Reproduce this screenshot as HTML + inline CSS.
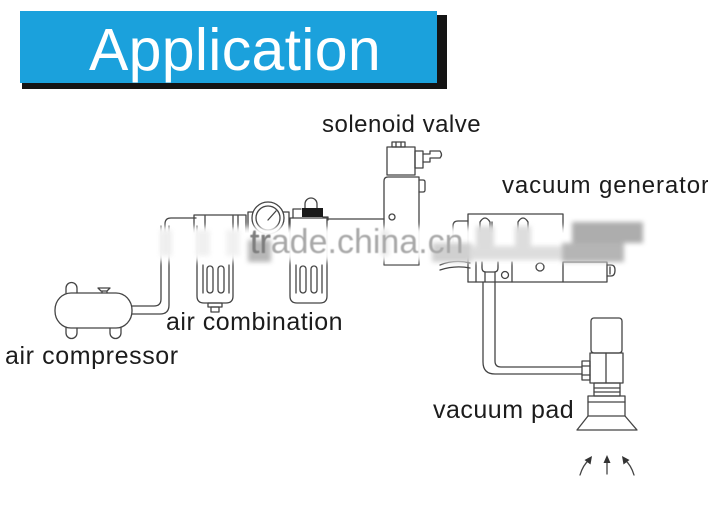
<!DOCTYPE html>
<html>
<head>
<meta charset="utf-8">
<style>
  html,body{margin:0;padding:0;background:#fff;}
  body{width:708px;height:507px;overflow:hidden;}
  svg{display:block;}
  text{font-family:"Liberation Sans", Arial, sans-serif;}
</style>
</head>
<body>
<svg width="708" height="507" viewBox="0 0 708 507" xmlns="http://www.w3.org/2000/svg">
  <defs>
    <filter id="b3" x="-30%" y="-30%" width="160%" height="160%"><feGaussianBlur stdDeviation="3"/></filter>
    <filter id="b2" x="-30%" y="-30%" width="160%" height="160%"><feGaussianBlur stdDeviation="2.5"/></filter>
    <filter id="b1" x="-30%" y="-30%" width="160%" height="160%"><feGaussianBlur stdDeviation="0.6"/></filter>
  </defs>

  <!-- Title -->
  <rect x="22" y="15" width="425" height="74" fill="#141414"/>
  <rect x="20" y="11" width="417" height="72" fill="#1ba1dc"/>
  <text x="89" y="70" font-size="59" fill="#ffffff" letter-spacing="0.3">Application</text>

  <g fill="none" stroke="#444" stroke-width="1.3" stroke-linecap="round" stroke-linejoin="round">
    <!-- Air compressor -->
    <rect x="55" y="293" width="77" height="35" rx="16" ry="17"/>
    <path d="M66,293 V288 a5.5,5.5 0 0 1 11,0 V293"/>
    <path d="M66,328 V333 a5.5,5.5 0 0 0 11,0 V328"/>
    <path d="M110,328 V333 a5.5,5.5 0 0 0 11,0 V328"/>
    <path d="M102,293 V291 M107,293 V291 M98,288 H110 L107,291 H101 Z"/>

    <!-- tube from compressor -->
    <path d="M132,306 H154 Q161,306 161,299 V226"/>
    <path d="M132,314 H160 Q169,314 169,305 V226"/>
    <path d="M165,232 V224 Q165,218 171,218 H196"/>

    <!-- Filter 1 -->
    <path d="M194,232 V215 H246 V232"/>
    <path d="M205,216 V232 M233,216 V232 M238,216 V232"/>
    <path d="M197,226 V296 Q197,303 204,303 H226 Q233,303 233,296 V226"/>
    <path d="M203,265 V293 M229,265 V293"/>
    <rect x="207" y="266" width="6" height="27" rx="3"/>
    <rect x="218" y="266" width="6" height="27" rx="3"/>
    <rect x="208" y="303" width="14" height="4"/>
    <rect x="211" y="307" width="8" height="5"/>

    <!-- Regulator + gauge -->
    <path d="M248,232 V212 H289 V232"/>
    <circle cx="268" cy="218" r="16" fill="#fff"/>
    <circle cx="268" cy="218" r="12"/>
    <path d="M268,220 L276,211"/>

    <!-- Filter 2 (lubricator) -->
    <path d="M293,218 V209 H301"/>
    <path d="M323,217 H328 V220"/>
    <path d="M305,208 V204 a6,6 0 0 1 12,0 V208"/>
    <path d="M290,226 V296 Q290,303 297,303 H320 Q327,303 327,296 V226"/>
    <path d="M290,226 V218 H327 V226"/>
    <path d="M296,265 V293 M322,265 V293"/>
    <rect x="300" y="266" width="6" height="27" rx="3"/>
    <rect x="311" y="266" width="6" height="27" rx="3"/>

    <!-- line to solenoid -->
    <path d="M328,219 H384"/>

    <!-- Solenoid valve -->
    <rect x="392" y="142" width="13" height="5"/>
    <path d="M396,142 V147 M401,142 V147"/>
    <rect x="387" y="147" width="28" height="28"/>
    <rect x="415" y="151" width="8" height="17"/>
    <path d="M423,154 H430 V151 H440 Q443,155 440,158 H430 V162 H423"/>
    <path d="M384,265 V181 Q384,177 388,177 H419 V265 H384"/>
    <path d="M419,180 H423 Q425,180 425,182 V190 Q425,192 423,192 H419"/>
    <circle cx="392" cy="217" r="3"/>

    <!-- Vacuum generator -->
    <path d="M453,242 V226 Q453,221 458,221 H468"/>
    <path d="M468,282 V214 H563 V232"/>
    <path d="M480,232 V222 Q485,214 490,222 V232"/>
    <path d="M492,232 V222"/>
    <path d="M518,232 V222 Q523,214 528,222 V232"/>
    <path d="M468,282 H563"/>
    <rect x="563" y="262" width="44" height="20"/>
    <path d="M607,265 H611 Q615,265 615,270 Q615,276 611,276 H607 M610,267 V274"/>
    <path d="M476,262 V282"/>
    <path d="M482,262 V268 Q482,272 486,272 H494 Q498,272 498,268 V262"/>
    <path d="M485,272 V282 M495,272 V282"/>
    <circle cx="505" cy="275" r="3.5"/>
    <path d="M512,262 V282"/>
    <circle cx="540" cy="267" r="4"/>
    <path d="M440,265 Q455,259 470,263 M440,270 Q455,265 470,268"/>

    <!-- Tube to vacuum pad -->
    <path d="M483,282 V362 Q483,374 495,374 H582"/>
    <path d="M495,282 V361 Q495,367 501,367 H582"/>
    <rect x="582" y="361" width="8" height="19"/>
    <path d="M582,366 H590 M582,375 H590"/>

    <!-- Vacuum pad -->
    <rect x="591" y="318" width="31" height="35" rx="3"/>
    <rect x="590" y="353" width="33" height="30"/>
    <path d="M606,353 V383"/>
    <rect x="594" y="383" width="26" height="13"/>
    <path d="M594,388 H620 M594,392 H620"/>
    <rect x="588" y="396" width="37" height="20"/>
    <path d="M588,402 H625"/>
    <path d="M588,416 L577,430 H637 L625,416"/>

    <!-- Arrows -->
    <path d="M607,474 V461"/>
    <path d="M580,475 Q583,465 589,460"/>
    <path d="M634,475 Q631,465 625,460"/>
  </g>
  <!-- black cap on lubricator -->
  <rect x="302" y="208" width="21" height="9" fill="#1a1a1a"/>

  <g fill="#333">
    <path d="M607,455 L603.5,463 L610.5,463 Z"/>
    <path d="M592,456 L584.5,460 L590.5,464.5 Z"/>
    <path d="M622,456 L623.5,464.5 L629.5,460 Z"/>
  </g>

  <!-- Watermark blur band -->
  <g filter="url(#b3)">
    <rect x="154" y="227" width="498" height="34" fill="#ffffff" opacity="0.95"/>
  </g>
  <g filter="url(#b2)" opacity="0.85">
    <rect x="160" y="230" width="12" height="26" fill="#ececec"/>
    <rect x="196" y="230" width="14" height="26" fill="#eeeeee"/>
    <rect x="226" y="230" width="14" height="26" fill="#efefef"/>
    <rect x="248" y="240" width="23" height="22" fill="#ababab"/>
    <rect x="381" y="230" width="8" height="26" fill="#e6e6e6"/>
    <rect x="476" y="226" width="18" height="20" fill="#d6d6d6"/>
    <rect x="515" y="226" width="16" height="20" fill="#d8d8d8"/>
    <rect x="432" y="243" width="40" height="19" fill="#c8c8c8"/>
    <rect x="470" y="246" width="95" height="14" fill="#d8d8d8"/>
    <rect x="572" y="222" width="71" height="21" fill="#9f9f9f"/>
    <rect x="562" y="243" width="62" height="19" fill="#a9a9a9"/>
  </g>
  <text x="250" y="253" font-size="34" fill="#a8a8a8" filter="url(#b1)">trade.china.cn</text>
  <text x="250" y="253" font-size="34" fill="#7e7e7e" filter="url(#b1)">tr</text>

  <!-- Labels -->
  <g fill="#1c1c1c">
    <text x="322" y="132" font-size="24" letter-spacing="0.5">solenoid valve</text>
    <text x="502" y="193" font-size="24" letter-spacing="0.9">vacuum generator</text>
    <text x="166" y="330" font-size="25" letter-spacing="0.5">air combination</text>
    <text x="5" y="364" font-size="25" letter-spacing="0.6">air compressor</text>
    <text x="433" y="418" font-size="25" letter-spacing="0.5">vacuum pad</text>
  </g>
</svg>
</body>
</html>
